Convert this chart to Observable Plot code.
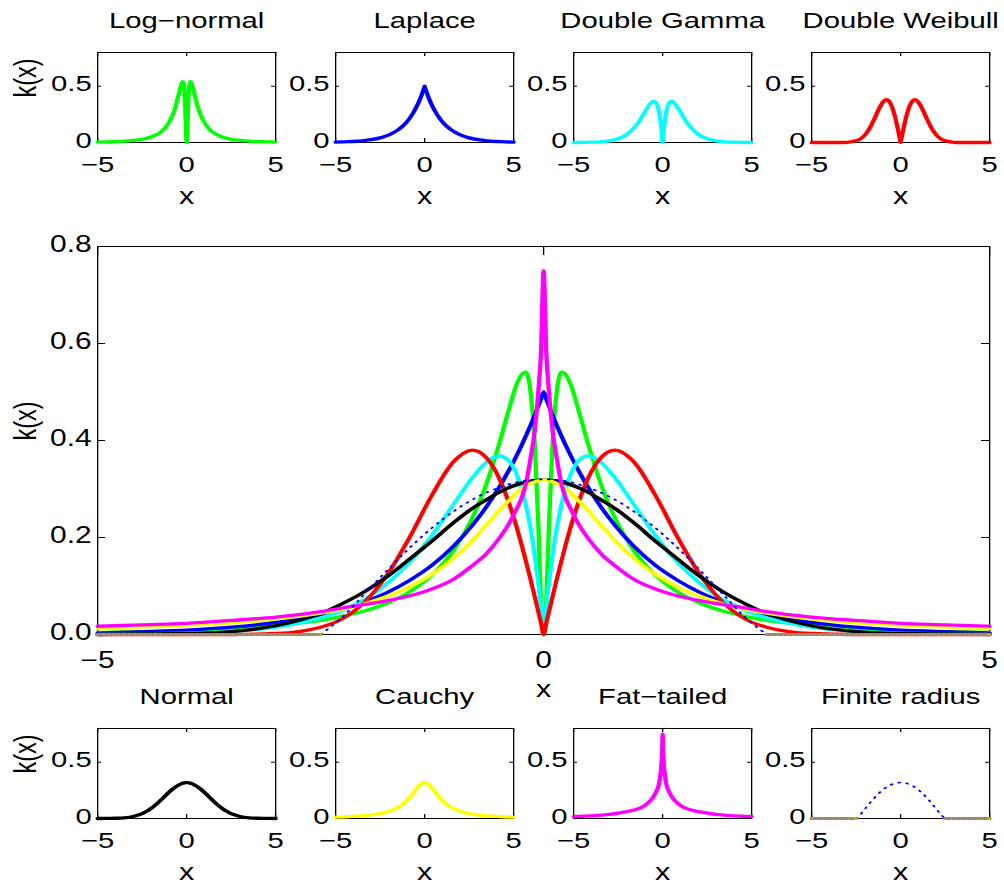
<!DOCTYPE html>
<html>
<head>
<meta charset="utf-8">
<script src="https://cdn.jsdelivr.net/npm/d3@7"></script>
<script src="https://cdn.jsdelivr.net/npm/@observablehq/plot@0.6"></script>
<style>
  html, body { margin: 0; padding: 0; background: #fff; overflow: hidden; }
  #fig { position: relative; width: 1004px; height: 889px; background: #fff; }
  #fig svg { position: absolute; left: 0; top: 0; transform-origin: 0 0; }
</style>
</head>
<body>
<div id="fig"></div>
<script>
// ---- data -------------------------------------------------------------
const xGrid = [-5, -4.5, -4, -3.5, -3, -2.5, -2.25, -2, -1.75, -1.5, -1.25, -1, -0.8, -0.65, -0.5, -0.4, -0.3, -0.25, -0.2, -0.15, -0.1, -0.06, -0.03,
  0, 0.03, 0.06, 0.1, 0.15, 0.2, 0.25, 0.3, 0.4, 0.5, 0.65, 0.8, 1, 1.25, 1.5, 1.75, 2, 2.25, 2.5, 3, 3.5, 4, 4.5, 5];

const logNormal = [0.004, 0.006, 0.008, 0.012, 0.019, 0.029, 0.038, 0.049, 0.065, 0.088, 0.123, 0.176, 0.240, 0.306, 0.392, 0.457, 0.517, 0.535, 0.541, 0.505, 0.393, 0.229, 0.072,
  0, 0.072, 0.229, 0.393, 0.505, 0.541, 0.535, 0.517, 0.457, 0.392, 0.306, 0.240, 0.176, 0.123, 0.088, 0.065, 0.049, 0.038, 0.029, 0.019, 0.012, 0.008, 0.006, 0.004];

const laplace = [0.003, 0.006, 0.009, 0.015, 0.025, 0.041, 0.053, 0.068, 0.087, 0.112, 0.143, 0.184, 0.225, 0.261, 0.303, 0.335, 0.370, 0.389, 0.409, 0.430, 0.452, 0.471, 0.485,
  0.5, 0.485, 0.471, 0.452, 0.430, 0.409, 0.389, 0.370, 0.335, 0.303, 0.261, 0.225, 0.184, 0.143, 0.112, 0.087, 0.068, 0.053, 0.041, 0.025, 0.015, 0.009, 0.006, 0.003];

const doubleGamma = [0.000, 0.001, 0.003, 0.006, 0.015, 0.034, 0.050, 0.073, 0.106, 0.149, 0.205, 0.271, 0.323, 0.354, 0.368, 0.360, 0.329, 0.303, 0.268, 0.222, 0.164, 0.106, 0.057,
  0, 0.057, 0.106, 0.164, 0.222, 0.268, 0.303, 0.329, 0.360, 0.368, 0.354, 0.323, 0.271, 0.205, 0.149, 0.106, 0.073, 0.050, 0.034, 0.015, 0.006, 0.003, 0.001, 0.000];

const doubleWeibull = [0, 0, 0, 0, 0.002, 0.015, 0.033, 0.068, 0.124, 0.201, 0.288, 0.358, 0.380, 0.366, 0.323, 0.277, 0.220, 0.187, 0.152, 0.116, 0.078, 0.047, 0.024,
  0, 0.024, 0.047, 0.078, 0.116, 0.152, 0.187, 0.220, 0.277, 0.323, 0.366, 0.380, 0.358, 0.288, 0.201, 0.124, 0.068, 0.033, 0.015, 0.002, 0, 0, 0, 0];

const normal = [0.000, 0.001, 0.002, 0.006, 0.018, 0.043, 0.064, 0.089, 0.120, 0.156, 0.193, 0.232, 0.260, 0.277, 0.293, 0.302, 0.309, 0.312, 0.314, 0.316, 0.317, 0.318, 0.318,
  0.318, 0.318, 0.318, 0.317, 0.316, 0.314, 0.312, 0.309, 0.302, 0.293, 0.277, 0.260, 0.232, 0.193, 0.156, 0.120, 0.089, 0.064, 0.043, 0.018, 0.006, 0.002, 0.001, 0.000];

const cauchy = [0.012, 0.015, 0.019, 0.024, 0.032, 0.044, 0.052, 0.064, 0.079, 0.098, 0.124, 0.159, 0.194, 0.224, 0.255, 0.274, 0.292, 0.300, 0.306, 0.311, 0.315, 0.317, 0.318,
  0.318, 0.318, 0.317, 0.315, 0.311, 0.306, 0.300, 0.292, 0.274, 0.255, 0.224, 0.194, 0.159, 0.124, 0.098, 0.079, 0.064, 0.052, 0.044, 0.032, 0.024, 0.019, 0.015, 0.012];

const fatTailed = [0.017, 0.020, 0.023, 0.029, 0.036, 0.047, 0.055, 0.062, 0.070, 0.080, 0.094, 0.115, 0.142, 0.165, 0.198, 0.225, 0.260, 0.280, 0.310, 0.360, 0.420, 0.500, 0.580,
  0.750, 0.580, 0.500, 0.420, 0.360, 0.310, 0.280, 0.260, 0.225, 0.198, 0.165, 0.142, 0.115, 0.094, 0.080, 0.070, 0.062, 0.055, 0.047, 0.036, 0.029, 0.023, 0.020, 0.017];

// finite-radius kernel: nonzero part, and the flat zero parts outside the radius
const finiteX = [-2.5, -2.25, -2, -1.75, -1.5, -1.25, -1, -0.75, -0.5, -0.25, 0, 0.25, 0.5, 0.75, 1, 1.25, 1.5, 1.75, 2, 2.25, 2.5];
const finiteY = [0, 0.037, 0.085, 0.133, 0.179, 0.220, 0.255, 0.283, 0.303, 0.316, 0.320, 0.316, 0.303, 0.283, 0.255, 0.220, 0.179, 0.133, 0.085, 0.037, 0];
const finiteZeroX = [-5, -2.5, 2.5, 5];
const finiteZeroY = [0, 0, 0, 0];
const finiteZeroSide = ["left", "left", "right", "right"];
const finiteEndX = [-2.5, 5];
const finiteEndY = [0, 0];

const panelTitles = ["Log−normal", "Laplace", "Double Gamma", "Double Weibull", "Normal", "Cauchy", "Fat−tailed", "Finite radius"];
const xLabel = "x";
const yLabel = "k(x)";

const xTicks = [-5, 0, 5];
const xTickLabels = ["−5", "0", "5"];
const smallYTicks = [0, 0.5];
const smallYTickLabels = ["0", "0.5"];
const mainYTicks = [0, 0.2, 0.4, 0.6, 0.8];
const mainYTickLabels = ["0.0", "0.2", "0.4", "0.6", "0.8"];

// ---- styles -------------------------------------------------------------
const colors = {
  logNormal: "#00ff00", laplace: "#0000ff", doubleGamma: "#00ffff", doubleWeibull: "#ff0000",
  normal: "#000000", cauchy: "#ffff00", fatTailed: "#ff00ff", finite: "#0000ff"
};
const FONT = "'Liberation Sans', Arial, Helvetica, sans-serif";
const S = 1.3;                // the whole figure is drawn wide (horizontal stretch)
const FIG_W = 1004, FIG_H = 889;
const LINE_W = 3.3;

function kernelLine(ys, color) {
  return Plot.line(xGrid, {x: xGrid, y: ys, stroke: color, strokeWidth: LINE_W, curve: "monotone-x"});
}

function finiteMarks() {
  return [
    Plot.line(finiteZeroX, {x: finiteZeroX, y: finiteZeroY, z: finiteZeroSide, stroke: "#787390", strokeWidth: 3}),
    Plot.line(finiteZeroX, {x: finiteZeroX, y: finiteZeroY, z: finiteZeroSide, stroke: "#a88f72", strokeWidth: 3, strokeDasharray: "1,3"}),
    Plot.line(finiteX, {x: finiteX, y: finiteY, stroke: colors.finite, strokeWidth: 1.7, strokeDasharray: "1.2,5", curve: "monotone-x"}),
    Plot.dot(finiteEndX, {x: finiteEndX, y: finiteEndY, r: 1.5, fill: "#c4b800", stroke: null})
  ];
}

function panel({left, right, top, bottom, yTicks, yTickLabels, layers, title, showYLabel,
                tickFont, labelFont, xTickLen, yTickLen, xTickPad, xLabelDy}) {
  const W = FIG_W / S;
  const fw = (right - left) / S;
  const fh = bottom - top;
  const svg = Plot.plot({
    width: W,
    height: FIG_H,
    marginLeft: left / S,
    marginRight: W - right / S,
    marginTop: top,
    marginBottom: FIG_H - bottom,
    x: {domain: [-5, 5]},
    y: {domain: [0, 0.8]},
    style: {background: "transparent", overflow: "visible", fontFamily: FONT, color: "#000"},
    marks: [
      Plot.frame({stroke: "#000", strokeWidth: 1}),
      Plot.tickX(xTicks, {x: xTicks, stroke: "#000", insetTop: fh - xTickLen}),
      Plot.tickX(xTicks, {x: xTicks, stroke: "#000", insetBottom: fh - xTickLen}),
      Plot.tickY(yTicks, {y: yTicks, stroke: "#000", insetRight: fw - yTickLen / S}),
      Plot.tickY(yTicks, {y: yTicks, stroke: "#000", insetLeft: fw - yTickLen / S}),
      ...layers,
      Plot.axisX(xTicks, {tickSize: 0, tickPadding: xTickPad, fontSize: tickFont, label: null,
        tickFormat: (d) => xTickLabels[xTicks.indexOf(d)]}),
      Plot.axisY(yTicks, {tickSize: 0, tickPadding: 6 / S, dy: -2, fontSize: tickFont, label: null,
        tickFormat: (d) => yTickLabels[yTicks.indexOf(d)]}),
      Plot.text([xLabel], {frameAnchor: "bottom", dy: xLabelDy, lineAnchor: "bottom", fontSize: labelFont, fill: "#000"}),
      title ? Plot.text([title], {frameAnchor: "top", dy: -24, lineAnchor: "bottom", fontSize: tickFont, fill: "#000"}) : null,
      showYLabel ? Plot.text([yLabel], {frameAnchor: "left", dx: -71 / S, rotate: -90, fontSize: labelFont, fill: "#000"}) : null
    ].filter(Boolean)
  });
  svg.style.background = "transparent";
  svg.style.overflow = "visible";
  svg.style.maxWidth = "none";
  svg.style.transform = `scaleX(${S})`;
  return svg;
}

const fig = document.getElementById("fig");

// small panels: 2 rows x 4 columns around the large panel
const colLefts = [97, 335, 573, 811];
const colWidth = 178;
const rows = [{top: 52, bottom: 142}, {top: 728, bottom: 818}];
const smallLayers = [
  [kernelLine(logNormal, colors.logNormal)],
  [kernelLine(laplace, colors.laplace)],
  [kernelLine(doubleGamma, colors.doubleGamma)],
  [kernelLine(doubleWeibull, colors.doubleWeibull)],
  [kernelLine(normal, colors.normal)],
  [kernelLine(cauchy, colors.cauchy)],
  [kernelLine(fatTailed, colors.fatTailed)],
  finiteMarks()
];

panelTitles.forEach((title, k) => {
  const r = rows[Math.floor(k / 4)], c = k % 4;
  fig.appendChild(panel({
    left: colLefts[c], right: colLefts[c] + colWidth, top: r.top, bottom: r.bottom,
    yTicks: smallYTicks, yTickLabels: smallYTickLabels,
    layers: smallLayers[k], title, showYLabel: c === 0,
    tickFont: 22.5, labelFont: 23.5, xTickPad: 14, xTickLen: 4, yTickLen: 4, xLabelDy: 62
  }));
});

// large panel with every kernel overlaid
fig.appendChild(panel({
  left: 97, right: 989, top: 246, bottom: 634,
  yTicks: mainYTicks, yTickLabels: mainYTickLabels,
  layers: [
    kernelLine(logNormal, colors.logNormal),
    kernelLine(laplace, colors.laplace),
    kernelLine(doubleGamma, colors.doubleGamma),
    kernelLine(doubleWeibull, colors.doubleWeibull),
    kernelLine(normal, colors.normal),
    kernelLine(cauchy, colors.cauchy),
    kernelLine(fatTailed, colors.fatTailed),
    ...finiteMarks()
  ],
  title: null, showYLabel: true,
  tickFont: 23, labelFont: 23.5, xTickPad: 17, xTickLen: 9, yTickLen: 8, xLabelDy: 63
}));
</script>
</body>
</html>
